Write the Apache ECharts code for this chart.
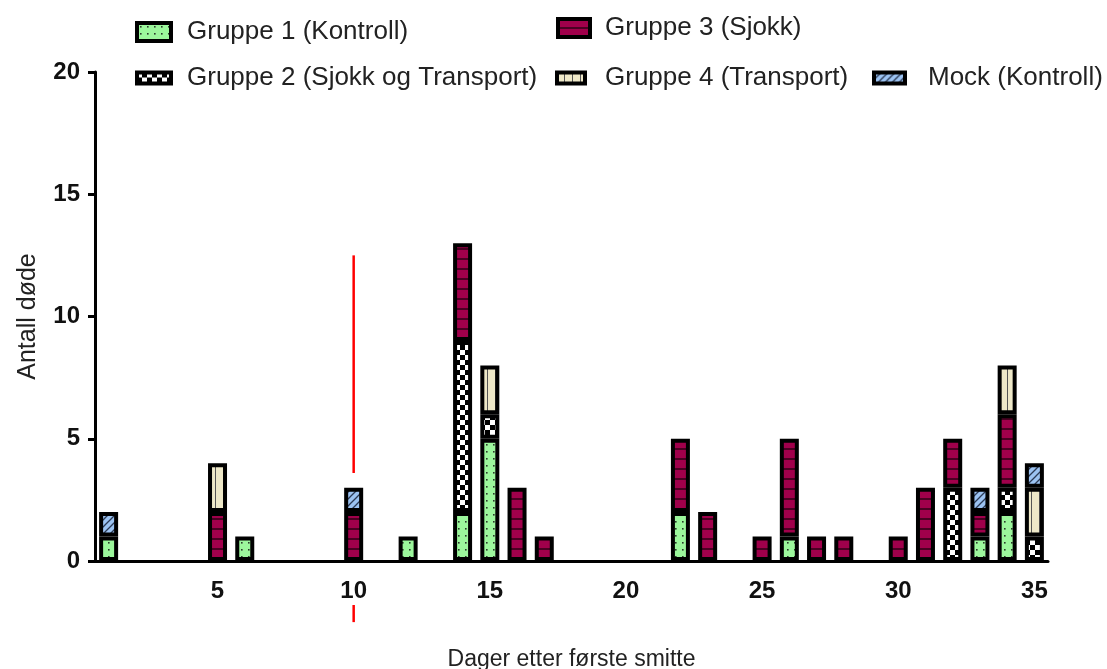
<!DOCTYPE html>
<html>
<head>
<meta charset="utf-8">
<script src="https://cdn.jsdelivr.net/npm/echarts@6/dist/echarts.min.js"></script>
<style>
html,body{margin:0;padding:0;background:#fff;}
#chart{width:1107px;height:669px;}
</style>
</head>
<body>
<div id="chart"></div>
<script>
// ---- data ----
const days = Array.from({length: 35}, (_, i) => String(i + 1));
const seriesNames = ['Gruppe 1 (Kontroll)', 'Gruppe 2 (Sjokk og Transport)', 'Gruppe 3 (Sjokk)', 'Gruppe 4 (Transport)', 'Mock (Kontroll)'];
const gruppe1 = [1,0,0,0,0,1,0,0,0,0,0,1,0,2,5,0,0,0,0,0,0,2,0,0,0,1,0,0,0,0,0,0,1,2,0];
const gruppe2 = [0,0,0,0,0,0,0,0,0,0,0,0,0,7,1,0,0,0,0,0,0,0,0,0,0,0,0,0,0,0,0,3,0,1,1];
const gruppe3 = [0,0,0,0,2,0,0,0,0,2,0,0,0,4,0,3,1,0,0,0,0,3,2,0,1,4,1,1,0,1,3,2,1,3,0];
const gruppe4 = [0,0,0,0,2,0,0,0,0,0,0,0,0,0,2,0,0,0,0,0,0,0,0,0,0,0,0,0,0,0,0,0,0,2,2];
const mock    = [1,0,0,0,0,0,0,0,0,1,0,0,0,0,0,0,0,0,0,0,0,0,0,0,0,0,0,0,0,0,0,0,1,0,1];
const yTicks = [0, 5, 10, 15, 20];
// red annotation at day 10: [day, from, to]
const redMarker = [['10', 12.5, 3.6], ['10', -1.8, -2.5]];

// ---- patterns ----
function tile(w, h, draw) {
  const c = document.createElement('canvas');
  c.width = w; c.height = h;
  const ctx = c.getContext('2d');
  draw(ctx, w, h);
  return {image: c, repeat: 'repeat'};
}
const patterns = [
  tile(7, 7, (ctx, w, h) => { ctx.fillStyle = '#9cf79c'; ctx.fillRect(0,0,w,h); ctx.fillStyle = '#2a3a2a'; ctx.fillRect(3,3,1.6,1.6); }),
  tile(10, 10, (ctx, w, h) => { ctx.fillStyle = '#000'; ctx.fillRect(0,0,w,h); ctx.fillStyle = '#fff'; ctx.fillRect(0,0,5,5); ctx.fillRect(5,5,5,5); }),
  tile(10, 10, (ctx, w, h) => { ctx.fillStyle = '#a0004b'; ctx.fillRect(0,0,w,h); ctx.fillStyle = '#4a0022'; ctx.fillRect(0,8,w,2); }),
  tile(8, 8, (ctx, w, h) => { ctx.fillStyle = '#eee8c8'; ctx.fillRect(0,0,w,h); ctx.fillStyle = '#555'; ctx.fillRect(7,0,1.5,h); }),
  tile(7, 7, (ctx, w, h) => { ctx.fillStyle = '#9cc3f2'; ctx.fillRect(0,0,w,h); ctx.strokeStyle = '#2b3a55'; ctx.lineWidth = 1.3;
    ctx.beginPath(); ctx.moveTo(-1, h+1); ctx.lineTo(w+1, -1); ctx.moveTo(-1, 1); ctx.lineTo(1, -1); ctx.moveTo(w-1, h+1); ctx.lineTo(w+1, h-1); ctx.stroke(); })
];
const values = [gruppe1, gruppe2, gruppe3, gruppe4, mock];

const FONT = 'Liberation Sans, Arial, sans-serif';
const barSeries = seriesNames.map((name, i) => ({
  name: name,
  type: 'bar',
  stack: 'total',
  barWidth: 19,
  data: values[i].map(v => v === 0 ? '-' : v),
  itemStyle: {color: patterns[i], borderColor: '#000', borderWidth: 4},
  emphasis: {disabled: true}
}));

// legend boxes: left of fill, vertical centre, fill size, text gap
const legendLayout = [
  {name: seriesNames[0], left: 135, cy: 32, w: 34, h: 18, gap: 11},
  {name: seriesNames[2], left: 556, cy: 28, w: 32, h: 18, gap: 10},
  {name: seriesNames[1], left: 135, cy: 78, w: 34, h: 11, gap: 11},
  {name: seriesNames[3], left: 555, cy: 78, w: 28, h: 11, gap: 15},
  {name: seriesNames[4], left: 872, cy: 78, w: 31, h: 11, gap: 18}
];
const legends = legendLayout.map(l => ({
  data: [l.name],
  left: l.left,
  top: l.cy - 15,
  padding: 0,
  icon: 'rect',
  itemWidth: l.w,
  itemHeight: l.h,
  selectedMode: false,
  itemStyle: {borderColor: '#000', borderWidth: 4},
  textStyle: {fontFamily: FONT, fontSize: 26, color: '#222', padding: [0, 0, 0, l.gap], height: 30, lineHeight: 30}
}));

const chart = echarts.init(document.getElementById('chart'), null, {renderer: 'canvas'});
chart.setOption({
  animation: false,
  backgroundColor: '#fff',
  legend: legends,
  grid: {left: 95, right: 59, top: 72, bottom: 108, containLabel: false, outerBoundsMode: 'none'},
  xAxis: {
    type: 'category',
    data: days,
    name: 'Dager etter første smitte',
    nameLocation: 'middle',
    nameGap: 87,
    nameTextStyle: {fontFamily: FONT, fontSize: 23, color: '#222'},
    axisLine: {lineStyle: {color: '#000', width: 3}},
    axisTick: {alignWithLabel: true, length: 8, lineStyle: {color: '#000', width: 3}, interval: (i) => (i + 1) % 5 === 0},
    axisLabel: {interval: (i) => (i + 1) % 5 === 0, fontFamily: FONT, fontSize: 24, fontWeight: 'bold', color: '#111', margin: 18}
  },
  yAxis: {
    type: 'value',
    min: yTicks[0],
    max: yTicks[yTicks.length - 1],
    interval: 5,
    name: 'Antall døde',
    nameLocation: 'middle',
    nameGap: 54,
    nameTextStyle: {fontFamily: FONT, fontSize: 25, color: '#222'},
    axisLine: {show: true, lineStyle: {color: '#000', width: 3}},
    axisTick: {show: true, length: 7, lineStyle: {color: '#000', width: 3}},
    axisLabel: {fontFamily: FONT, fontSize: 24, fontWeight: 'bold', color: '#111', margin: 15},
    splitLine: {show: false}
  },
  series: barSeries.concat([{
    type: 'custom',
    name: 'marker',
    clip: false,
    silent: true,
    data: redMarker,
    encode: {x: 0, y: [1, 2]},
    renderItem: function (params, api) {
      const p1 = api.coord([api.value(0), api.value(1)]);
      const p2 = api.coord([api.value(0), api.value(2)]);
      return {type: 'line', shape: {x1: p1[0], y1: p1[1], x2: p2[0], y2: p2[1]}, style: {stroke: '#ff0000', lineWidth: 2.5}};
    }
  }])
});
</script>
</body>
</html>
